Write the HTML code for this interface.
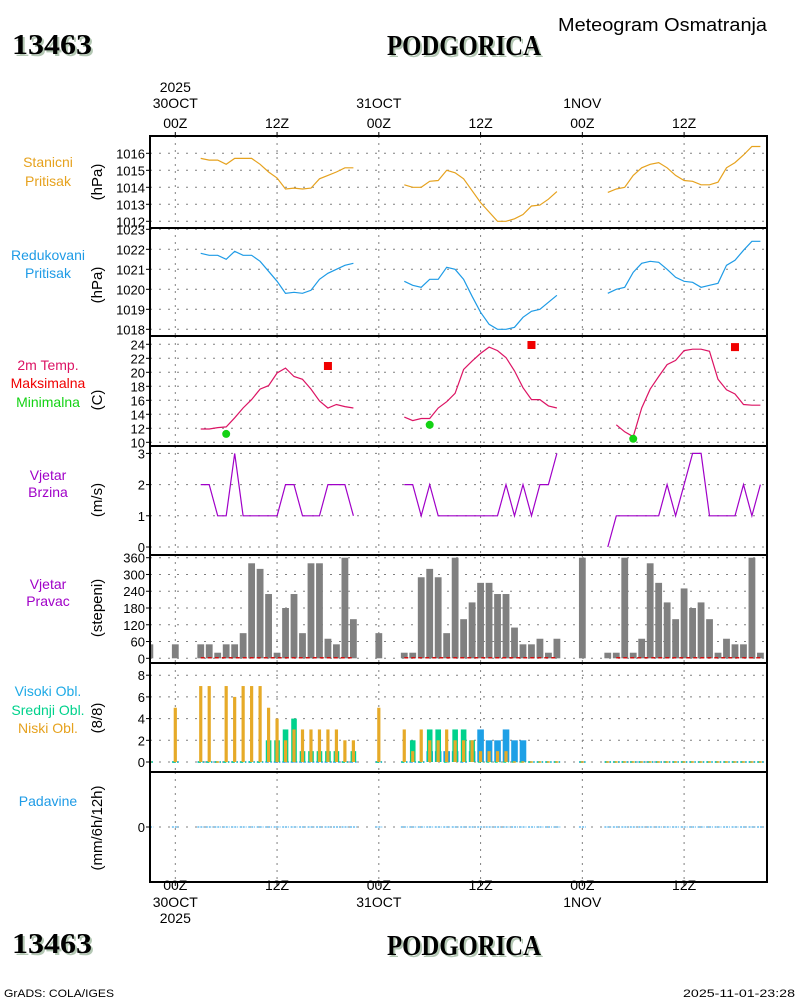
<!DOCTYPE html>
<html><head><meta charset="utf-8"><style>
html,body{margin:0;padding:0;background:#fff;width:800px;height:1000px;overflow:hidden}
svg{display:block;font-family:"Liberation Sans",sans-serif}
</style></head><body>
<svg id="c" width="800" height="1000" viewBox="0 0 800 1000" xmlns="http://www.w3.org/2000/svg">
<g id="hdr">
<text x="14" y="56" font-family="Liberation Serif,serif" font-weight="bold" font-size="28" fill="#b4c8b4" textLength="80" lengthAdjust="spacingAndGlyphs">13463</text>
<text x="12" y="54" font-family="Liberation Serif,serif" font-weight="bold" font-size="28" fill="#000" textLength="80" lengthAdjust="spacingAndGlyphs">13463</text>
<text x="389" y="57" font-family="Liberation Serif,serif" font-weight="bold" font-size="28" fill="#b4c8b4" textLength="154" lengthAdjust="spacingAndGlyphs">PODGORICA</text>
<text x="387" y="55" font-family="Liberation Serif,serif" font-weight="bold" font-size="28" fill="#000" textLength="154" lengthAdjust="spacingAndGlyphs">PODGORICA</text>
<text x="558" y="31" font-size="18" fill="#000" textLength="209" lengthAdjust="spacingAndGlyphs">Meteogram Osmatranja</text>
<text x="14" y="955" font-family="Liberation Serif,serif" font-weight="bold" font-size="28" fill="#b4c8b4" textLength="80" lengthAdjust="spacingAndGlyphs">13463</text>
<text x="12" y="953" font-family="Liberation Serif,serif" font-weight="bold" font-size="28" fill="#000" textLength="80" lengthAdjust="spacingAndGlyphs">13463</text>
<text x="389" y="957" font-family="Liberation Serif,serif" font-weight="bold" font-size="28" fill="#b4c8b4" textLength="154" lengthAdjust="spacingAndGlyphs">PODGORICA</text>
<text x="387" y="955" font-family="Liberation Serif,serif" font-weight="bold" font-size="28" fill="#000" textLength="154" lengthAdjust="spacingAndGlyphs">PODGORICA</text>
<text x="4" y="997" font-size="11" fill="#000" textLength="110" lengthAdjust="spacingAndGlyphs">GrADS: COLA/IGES</text>
<text x="795" y="997" font-size="11" fill="#000" text-anchor="end" textLength="112" lengthAdjust="spacingAndGlyphs">2025-11-01-23:28</text>
</g>
</svg>
<script>
// time axis: hours since 30OCT 00Z
const X0 = 175.3, PXH = 8.48, PL = 150, PR = 767;
const xh = h => X0 + h * PXH;

// ---- data ----
const gridHours = [0, 12, 24, 36, 48, 60];
const hourLabels = ["00Z", "12Z", "00Z", "12Z", "00Z", "12Z"];
const dayLabels = ["30OCT", "", "31OCT", "", "1NOV", ""];
const yearLabels = ["2025", "", "", "", "", ""];

// hourly series indexed from h=0
const stationP = [null,null,null,
 1015.7,1015.6,1015.6,1015.35,1015.7,1015.7,1015.7,1015.35,1014.9,1014.55,1013.9,1013.95,1013.9,1013.95,1014.5,1014.7,1014.9,1015.15,1015.15,
 null,null,null,null,null,
 1014.15,1014.0,1014.0,1014.35,1014.4,1015.0,1014.85,1014.5,1013.8,1013.1,1012.55,1012.0,1012.0,1012.15,1012.4,1012.9,1012.95,1013.3,1013.75,
 null,null,null,null,null,
 1013.7,1013.9,1014.0,1014.7,1015.15,1015.35,1015.45,1015.15,1014.7,1014.4,1014.35,1014.15,1014.15,1014.3,1015.15,1015.45,1015.9,1016.4,1016.4];
const reducedP = [null,null,null,
 1021.8,1021.7,1021.7,1021.5,1021.9,1021.7,1021.7,1021.4,1020.9,1020.4,1019.8,1019.85,1019.8,1019.95,1020.5,1020.8,1021.0,1021.2,1021.3,
 null,null,null,null,null,
 1020.4,1020.2,1020.1,1020.5,1020.5,1021.1,1021.0,1020.5,1019.65,1018.85,1018.25,1018.0,1018.0,1018.1,1018.6,1018.9,1019.0,1019.35,1019.7,
 null,null,null,null,null,
 1019.8,1020.0,1020.1,1020.85,1021.3,1021.4,1021.35,1021.0,1020.6,1020.4,1020.35,1020.1,1020.2,1020.3,1021.2,1021.45,1021.95,1022.4,1022.4];
const temp2m = [null,null,null,
 11.9,11.9,12.1,12.2,13.5,14.9,16.1,17.6,18.1,19.9,20.6,19.4,19.0,17.6,15.9,14.9,15.4,15.1,14.9,
 null,null,null,null,null,
 13.6,13.1,13.4,13.4,14.9,15.8,17.0,20.4,21.6,22.7,23.6,23.1,22.1,20.2,17.8,16.1,16.1,15.2,14.9,
 null,null,null,null,null,null,
 12.5,11.5,10.8,14.9,17.6,19.4,21.1,21.7,23.1,23.3,23.3,23.0,19.0,17.5,16.9,15.4,15.3,15.3];
const maxHours = [18, 42, 66];
const maxTemps = [20.9, 23.9, 23.6];
const minHours = [6, 30, 54];
const minTemps = [11.2, 12.5, 10.5];
const windSpeed = [null,null,null,
 2,2,1,1,3,1,1,1,1,1,2,2,1,1,1,2,2,2,1,
 null,null,null,null,null,
 2,2,1,2,1,1,1,1,1,1,1,1,2,1,2,1,2,2,3,
 null,null,null,null,null,
 0,1,1,1,1,1,1,2,1,2,3,3,1,1,1,1,2,1,2];
// wind direction, indexed from h=-3
const DIR_START = -3;
const windDir = [50,null,null,50,null,null,
 50,50,20,50,50,90,340,320,230,20,180,230,90,340,340,70,50,360,140,
 null,null,90,null,null,
 20,20,290,320,290,90,360,140,200,270,270,230,230,110,50,50,70,20,70,
 null,null,360,null,null,
 20,20,360,20,70,340,270,200,140,250,180,200,140,20,70,50,50,360,20];
// clouds (octas), indexed from h=-3
const lowCloud = [0,null,null,5,null,null,
 7,7,0,7,6,7,7,7,5,4,2,3,3,3,3,3,3,2,2,
 null,null,5,null,null,
 3,1,3,2,2,3,2,2,2,1,1,1,1,0,0,0,0,0,0,
 null,null,0,null,null,
 0,0,0,0,0,0,0,0,0,0,0,0,0,0,0,0,0,0,0];
const midCloud = [0,null,null,0,null,null,
 0,0,0,0,0,0,0,0,2,2,3,4,1,1,1,1,1,0,1,
 null,null,0,null,null,
 0,2,0,3,3,0,3,3,2,0,0,0,0,0,0,0,0,0,0,
 null,null,0,null,null,
 0,0,0,0,0,0,0,0,0,0,0,0,0,0,0,0,0,0,0];
const highCloud = [0,null,null,0,null,null,
 0,0,0,0,0,0,0,0,0,0,0,0,0,0,0,0,0,0,0,
 null,null,0,null,null,
 0,0,0,1,1,1,1,0,1,3,2,2,3,2,2,0,0,0,0,
 null,null,0,null,null,
 0,0,0,0,0,0,0,0,0,0,0,0,0,0,0,0,0,0,0];
const precip = lowCloud.map(v => v === null ? null : 0);

// ---- axes ----
const yStation = v => 153.3 + (1016 - v) * 17;
const yReduced = v => 249.3 + (1022 - v) * 20;
const yTemp = v => 442.3 - (v - 10) * 7;
const ySpeed = v => 547 - v * 31.2;
const yDir = v => 658.3 - v * 100.6 / 360;
const yCloud = v => 762 - v * 10.85;
const yPrec = v => 827 - v * 20;

const stationTicks = [1012,1013,1014,1015,1016];
const reducedTicks = [1018,1019,1020,1021,1022,1023];
const tempTicks = [10,12,14,16,18,20,22,24];
const speedTicks = [0,1,2,3];
const dirTicks = [0,60,120,180,240,300,360];
const cloudTicks = [0,2,4,6,8];
const precTicks = [0];

const svg = document.getElementById('c');
const NS = 'http://www.w3.org/2000/svg';
function mk(tag, attrs, parent) {
  const e = document.createElementNS(NS, tag);
  for (const k in attrs) e.setAttribute(k, attrs[k]);
  (parent || svg).appendChild(e);
  return e;
}
function txt(s, x, y, attrs, parent) {
  const t = mk('text', Object.assign({x: x, y: y, 'font-size': 14}, attrs || {}), parent);
  t.textContent = s;
  return t;
}

const panels = [
  {name:'station-pressure', top:136, bot:228, ticks:stationTicks, f:yStation, labels:[['Stanicni','#e6a21e'],['Pritisak','#e6a21e']], ly:[167,186], unit:'(hPa)', uy:182},
  {name:'reduced-pressure', top:228, bot:336, ticks:reducedTicks, f:yReduced, labels:[['Redukovani','#1e9be6'],['Pritisak','#1e9be6']], ly:[260,278], unit:'(hPa)', uy:285},
  {name:'temperature', top:336, bot:446, ticks:tempTicks, f:yTemp, labels:[['2m Temp.','#dc1464'],['Maksimalna','#f00000'],['Minimalna','#14d214']], ly:[370,388,407], unit:'(C)', uy:400},
  {name:'wind-speed', top:446, bot:555, ticks:speedTicks, f:ySpeed, labels:[['Vjetar','#a000c8'],['Brzina','#a000c8']], ly:[480,497], unit:'(m/s)', uy:500},
  {name:'wind-direction', top:555, bot:663, ticks:dirTicks, f:yDir, labels:[['Vjetar','#a000c8'],['Pravac','#a000c8']], ly:[589,606], unit:'(stepeni)', uy:608},
  {name:'cloud-cover', top:663, bot:772, ticks:cloudTicks, f:yCloud, labels:[['Visoki Obl.','#1eaae6'],['Srednji Obl.','#00d28c'],['Niski Obl.','#e6a21e']], ly:[696,715,733], unit:'(8/8)', uy:718},
  {name:'precipitation', top:772, bot:882, ticks:precTicks, f:yPrec, labels:[['Padavine','#1e9be6']], ly:[806], unit:'(mm/6h/12h)', uy:828}
];

panels.forEach(p => {
  const g = mk('g', {});
  
  
  gridHours.forEach(h => {
    const l = mk('line', {x1:xh(h), x2:xh(h), y1:p.top, y2:p.bot, stroke:'#808080', 'stroke-dasharray':'2,5'}, g);
    
    
  });
  p.ticks.forEach(v => {
    const y = p.f(v);
    if (y > p.top + 1 && y < p.bot - 1) {
      const l = mk('line', {x1:PL, x2:PR, y1:y, y2:y, stroke:'#808080', 'stroke-dasharray':'2,7'}, g);
      
      
    }
    const tk = mk('line', {x1:PL-4, x2:PL, y1:y, y2:y, stroke:'#000'}, g);
    
    
    const t = txt(String(v), 145, y + 5, {'text-anchor':'end', 'font-size':13}, g);
    
    
  });
  p.labels.forEach((lab, i) => {
    const t = txt(lab[0], 48, p.ly[i], {'text-anchor':'middle', fill:lab[1], 'font-size':14}, g);
    
    
  });
  const u = txt(p.unit, 0, 0, {'text-anchor':'middle', 'font-size':15, transform:'translate(102,' + p.uy + ') rotate(-90)'}, g);
  
  
});

function series(arr, start, f, color, name) {
  let seg = [];
  const segs = [];
  arr.forEach((v, i) => {
    if (v === null) { if (seg.length) segs.push(seg); seg = []; }
    else seg.push(xh(i + start).toFixed(1) + ',' + f(v).toFixed(1));
  });
  if (seg.length) segs.push(seg);
  segs.forEach(s => {
    const pl = mk('polyline', {points:s.join(' '), fill:'none', stroke:color, 'stroke-width':1.2});
    
    
  });
}
series(stationP, 0, yStation, '#e6a21e', 'station-pressure-line');
series(reducedP, 0, yReduced, '#1e9be6', 'reduced-pressure-line');
series(temp2m, 0, yTemp, '#dc1464', 'temperature-line');
series(windSpeed, 0, ySpeed, '#a000c8', 'wind-speed-line');

maxHours.forEach((h, i) => {
  const r = mk('rect', {x:xh(h)-4, y:yTemp(maxTemps[i])-4, width:8, height:8, fill:'#f00000'});
  
  
});
minHours.forEach((h, i) => {
  const c = mk('circle', {cx:xh(h), cy:yTemp(minTemps[i]), r:4, fill:'#14d214'});
  
  
});

windDir.forEach((v, i) => {
  if (v === null) return;
  const h = i + DIR_START;
  let x = xh(h) - 3.4, w = 6.8;
  if (x < PL) { w -= PL - x; x = PL; }
  const r = mk('rect', {x:x, y:yDir(v), width:w, height:yDir(0) - yDir(v), fill:'#808080'});
  
  
});
[[3,21],[27,45],[52,69]].forEach(s => {
  const l = mk('line', {x1:xh(s[0]), x2:xh(s[1]), y1:yDir(0)-0.5, y2:yDir(0)-0.5, stroke:'#d01010', 'stroke-width':1.5, 'stroke-dasharray':'4,3'});
  
  
});

function cloudBars(arr, w, color, name) {
  arr.forEach((v, i) => {
    if (v === null) return;
    const h = i + DIR_START;
    let x = xh(h) - w / 2, ww = w;
    if (x < PL) { ww -= PL - x; x = PL; }
    if (ww <= 0) return;
    if (v > 0) {
      const r = mk('rect', {x:x, y:yCloud(v), width:ww, height:yCloud(0) - yCloud(v), fill:color});
      
      
    } else {
      const l = mk('line', {x1:x, x2:x + ww, y1:yCloud(0), y2:yCloud(0), stroke:color, 'stroke-width':1.5, 'stroke-dasharray':'3,2'});
      
      
    }
  });
}
cloudBars(highCloud, 6.6, '#1ea0e6', 'high-cloud-bar');
cloudBars(midCloud, 5.6, '#00d28c', 'mid-cloud-bar');
cloudBars(lowCloud, 3.2, '#e6aa28', 'low-cloud-bar');

precip.forEach((v, i) => {
  if (v === null) return;
  const h = i + DIR_START;
  const x = Math.max(PL, xh(h) - 3.4);
  const l = mk('line', {x1:x, x2:xh(h) + 3.4, y1:yPrec(v), y2:yPrec(v), stroke:'#1e9be6', 'stroke-width':1, 'stroke-dasharray':'2,1'});
  
  
});

panels.forEach(p => {
  const r = mk('rect', {x:PL, y:p.top, width:PR - PL, height:p.bot - p.top, fill:'none', stroke:'#000', 'stroke-width':2});
  
  
});

gridHours.forEach((h, i) => {
  const x = xh(h);
  const t1 = txt(hourLabels[i], x, 128, {'text-anchor':'middle', 'font-size':14});
  
  
  const b1 = txt(hourLabels[i], x, 890, {'text-anchor':'middle', 'font-size':14});
  
  
  mk('line', {x1:x, x2:x, y1:132, y2:136, stroke:'#000'});
  mk('line', {x1:x, x2:x, y1:882, y2:886, stroke:'#000'});
  if (dayLabels[i]) {
    const t2 = txt(dayLabels[i], x, 108, {'text-anchor':'middle', 'font-size':14});
    
    
    const b2 = txt(dayLabels[i], x, 907, {'text-anchor':'middle', 'font-size':14});
    
    
  }
  if (yearLabels[i]) {
    const t3 = txt(yearLabels[i], x, 92, {'text-anchor':'middle', 'font-size':14});
    
    
    const b3 = txt(yearLabels[i], x, 923, {'text-anchor':'middle', 'font-size':14});
    
    
  }
});
</script>
</body></html>
